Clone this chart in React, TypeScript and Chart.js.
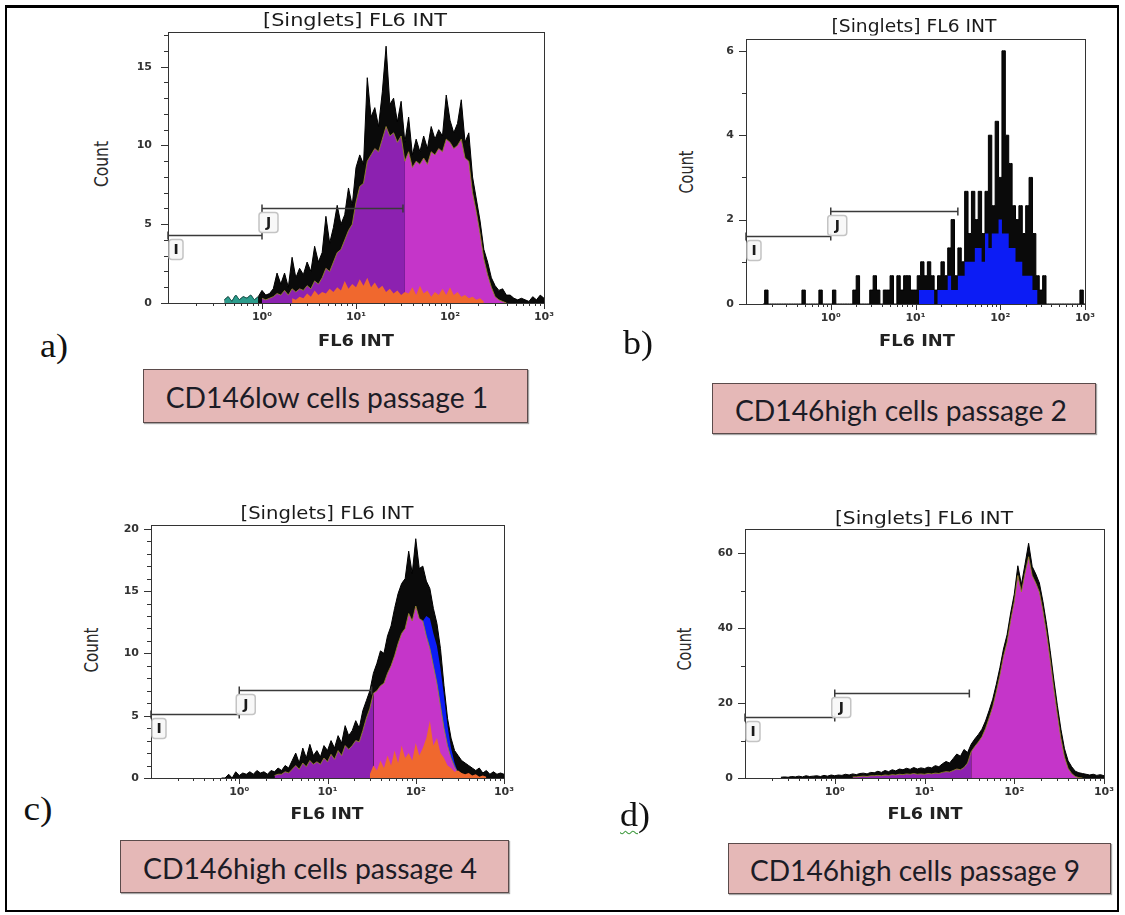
import React, { useEffect, useRef } from "react";
import { Chart, registerables } from "chart.js";

Chart.register(...registerables);

// ---------- shared axis definitions ----------
const BIN_STEP = 0.04; // channel width in log10 units
const X_MIN = 0.1;
const X_MAX = 1000;
const X_TICKS = [1, 10, 100, 1000];
const X_TICK_LABELS = ["10\u2070", "10\u00b9", "10\u00b2", "10\u00b3"];
const GATE_I = [0.1, 1];
const GATE_J = [1, 31.6];
const TITLE_TEXT = "[Singlets] FL6 INT";
const X_TITLE_TEXT = "FL6 INT";
const Y_TITLE_TEXT = "Count";

// ---------- panel a : CD146low passage 1 ----------
const aTealStart = -0.4;
const aTeal = [0.2, 0.4, 0.1, 0.5, 0.2, 0.4, 0.3, 0.5, 0.2, 0.4];
const aTotalStart = -0.4;
const aTotal = [
  0.2, 0.4, 0.1, 0.5, 0.2, 0.4, 0.3, 0.5, 0.2, 0.4,
  0.8, 0.5, 0.6, 0.9, 1.9, 1.2, 1.9, 1.0, 2.9, 1.6, 2.2, 1.8, 2.6, 2.0, 3.6, 2.6, 3.2, 5.5, 3.8, 4.8, 6.2, 5.0, 5.6, 7.3, 6.2,
  8.6, 9.4, 8.8, 14.3, 11.8, 12.4, 11.2, 13.4, 16.3, 12.6, 13.0, 11.5, 12.8, 10.2, 11.8, 9.4, 10.4, 9.6, 10.6, 9.8, 11.2, 10.4, 11.0, 10.6, 13.2,
  11.6, 10.8, 11.4, 12.9, 10.2, 10.8, 8.0, 6.6, 5.2, 3.4, 2.6, 1.6, 1.1, 0.8, 0.9, 0.5, 0.5, 0.3, 0.2, 0.3, 0.2, 0.1, 0.4, 0.2, 0.5,
  0.3,
];
const aGatedStart = 0.0;
const aGated = [
  0.3, 0.2, 0.3, 0.4, 0.6, 0.5, 0.8, 0.5, 0.9, 0.7, 0.9, 0.8, 1.1, 0.9, 1.4, 1.2, 1.6, 2.2, 2.0, 2.6, 3.2, 3.4, 4.0, 4.6, 5.0,
  6.4, 7.4, 7.6, 9.0, 9.4, 9.8, 9.6, 10.4, 11.2, 10.6, 10.8, 10.2, 10.6, 9.0, 9.6, 8.6, 9.0, 8.8, 9.2, 8.8, 9.6, 9.4, 9.8, 9.6, 10.4,
  10.2, 9.8, 10.0, 10.4, 9.2, 9.0, 7.0, 5.8, 4.4, 2.8, 1.8, 1.0, 0.4, 0.2, 0.1, 0,
];
const aOrangeStart = 0.32;
const aOrange = [
  0.3, 0.2, 0.4, 0.3, 0.6, 0.4, 0.8, 0.5, 0.7, 0.6, 0.9, 0.7, 1.0, 0.8, 1.4, 0.9, 1.2, 1.0, 1.5, 1.1,
  1.6, 1.0, 1.3, 0.9, 1.1, 0.7, 0.9, 0.6, 0.8, 0.5, 0.7, 0.6, 1.0, 0.5, 1.1, 0.6, 0.8, 0.4, 0.7, 0.5,
  0.9, 0.5, 1.0, 0.5, 0.7, 0.4, 0.5, 0.3, 0.4, 0.2, 0.3, 0.1,
];

// ---------- panel b : CD146high passage 2 ----------
const bTotalStart = -0.8;
const bTotal = [
  0, 0.33, 0, 0, 0, 0, 0, 0, 0, 0, 0, 0, 0.33, 0, 0, 0, 0, 0.33, 0, 0,
  0, 0.33, 0, 0, 0, 0, 0, 0.33, 0.67, 0, 0, 0, 0.33, 0.67, 0.33, 0, 0.33, 0.33, 0.67, 0, 0.67, 0.33, 0.67, 0.67, 0.33,
  0.33, 0.67, 1.0, 0.67, 1.0, 0.67, 0.33, 0.67, 1.0, 0.67, 1.33, 2.0, 0.67, 1.33, 1.0, 2.67, 1.67, 2.67, 2.0, 2.67, 1.67, 2.67, 4.0, 2.33, 4.33,
  3.0, 6.0, 4.0, 3.33, 2.33, 2.0, 2.33, 1.67, 2.33, 3.0, 1.67, 0.67, 0.33, 0.67, 0, 0, 0, 0, 0, 0, 0, 0, 0, 0, 0.33,
  0,
];
const bBlueStart = 1.04;
const bBlue = [
  0.33, 0.33, 0.33, 0.33, 0.33, 0, 0.33, 0.33, 0.33, 0.67, 0.33, 0.33, 0.67, 0.67, 1.0, 1.0, 1.0, 1.33,
  1.33, 1.0, 1.67, 1.33, 1.67, 1.67, 2.0, 1.67, 1.67, 1.33, 1.33, 1.0, 1.0, 0.67, 0.67, 0.67, 0.33, 0.33,
];

// ---------- panel c : CD146high passage 4 ----------
const cTotalStart = -0.2;
const cTotal = [
  0, 0, 0.3, 0, 0.5,
  0.2, 0.4, 0.3, 0.5, 0.3, 0.6, 0.4, 0.5, 0.3, 0.6, 0.5, 0.8, 0.6, 1.0, 0.8, 1.4, 2.0, 1.2, 2.4, 1.6, 2.7, 1.8, 2.2, 1.7, 2.6,
  2.2, 3.0, 2.4, 3.4, 2.8, 4.2, 3.4, 3.8, 4.6, 4.0, 5.4, 6.2, 7.0, 8.4, 9.2, 10.2, 10.0, 11.4, 12.2, 13.6, 14.8, 15.6, 16.0, 18.2, 16.4,
  19.2, 16.8, 17.0, 15.8, 15.2, 13.6, 12.4, 10.4, 7.4, 4.8, 3.2, 2.2, 1.8, 1.4, 1.2, 1.0, 0.8, 0.6, 0.8, 0.4, 0.6, 0.3, 0.5, 0.3, 0.4,
  0.3,
];
const cGatedStart = 0.4;
const cGated = [
  0.2, 0.3, 0.3, 0.5, 0.4, 0.7, 1.0, 0.7, 1.2, 0.9, 1.4, 1.1, 1.3, 1.1, 1.6,
  1.3, 1.9, 1.5, 2.2, 1.8, 2.6, 2.3, 2.6, 3.0, 2.9, 3.8, 4.8, 5.6, 6.8, 7.0, 7.4, 7.6, 8.4, 9.0, 9.8, 10.8, 11.6, 12.0, 13.2, 12.6,
  13.8, 12.8, 12.6, 11.4, 10.4, 9.0, 7.6, 5.8, 4.0, 2.6, 1.6, 0.9, 0.4, 0.2, 0,
];
const cBlueStart = 2.08;
const cBlue = [12.6, 13.0, 12.8, 11.6, 10.6, 8.8, 6.6, 4.2, 2.4, 1.2, 0.4, 0];
const cOrangeStart = 1.48;
const cOrange = [
  0.3, 1.0, 0.6, 1.4, 0.8, 1.8, 1.0, 2.2, 1.2, 2.6, 1.6, 2.0, 1.4, 2.8, 1.8, 2.4, 3.2,
  4.6, 2.6, 3.2, 2.0, 1.6, 1.0, 0.8, 0.5, 0.6, 0.4, 0.3, 0.4, 0.2, 0.3, 0.1, 0.2, 0.1,
];

// ---------- panel d : CD146high passage 9 ----------
const dTotalStart = -0.6;
const dTotal = [
  0.2, 0.3, 0.2, 0.4, 0.3, 0.5, 0.3, 0.6, 0.4, 0.5, 0.6, 0.4, 0.7, 0.5, 0.8,
  0.6, 0.8, 0.7, 1.0, 0.8, 1.1, 0.9, 1.2, 1.3, 1.1, 1.5, 1.4, 1.8, 1.5, 2.0, 1.7, 2.2, 1.9, 2.4, 2.2, 2.6, 2.3, 2.8, 2.4, 2.7,
  2.5, 2.9, 2.7, 3.3, 3.0, 3.8, 4.4, 4.0, 5.2, 6.4, 5.8, 7.6, 6.8, 9.0, 10.4, 11.6, 13.0, 15.2, 18.0, 21.0, 25.0, 29.4, 34.4, 38.2, 44.0,
  49.0, 56.6, 51.6, 57.0, 62.6, 56.4, 54.4, 52.0, 47.0, 41.0, 34.0, 26.4, 19.4, 13.0, 7.8, 4.6, 3.0, 1.8, 1.4, 1.2, 1.0, 0.8, 1.0, 0.7, 0.9,
  0.6,
];
const dGatedStart = 0.2;
const dGated = [
  0.3, 0.3, 0.4, 0.5, 0.4, 0.6, 0.6, 0.7, 0.6, 0.8, 0.7, 0.9, 0.8, 1.0, 0.9, 1.1, 1.0, 1.2, 1.0, 1.1,
  1.0, 1.2, 1.1, 1.3, 1.2, 1.5, 1.7, 1.6, 2.0, 2.4, 2.2, 2.8, 4.0, 7.0, 8.4, 9.6, 11.0, 13.2, 16.0, 19.0, 23.0, 27.4, 32.4, 36.2, 42.0,
  47.0, 54.0, 49.6, 54.6, 59.0, 54.0, 52.0, 49.6, 44.6, 38.6, 31.6, 24.0, 17.0, 10.6, 5.6, 2.6, 1.2, 0.4, 0.1, 0,
];

// ---------- styling ----------
const BLACK = "#0a0a0a";
const PURPLE = "#8c21b0";
const MAGENTA = "#c535c9";
const ORANGE = "#f0682e";
const BLUE = "#0c1cf5";
const TEAL = "#2c9c8c";
const OLIVE = "rgba(150,140,40,0.85)";
const AXIS_COLOR = "#333";
const TICK_FONT = { family: "DejaVu Sans", size: 11, weight: "bold" as const };

const AXIS_W = 44;
const AXIS_H = 30;
const PAD_T = 22;
const PAD_R = 16;

type Series = {
  start: number;
  values: number[];
  fill: string;
  border?: string;
  borderWidth?: number;
  gated?: boolean;
  order: number;
};

type Panel = {
  key: string;
  plot: { l: number; r: number; t: number; b: number };
  yMax: number;
  yMajor: number[];
  yMinorStep: number;
  yLabelPad: number;
  stepped: boolean;
  gateIY: number;
  gateJY: number;
  series: Series[];
  title: { cx: number; cy: number; w: number };
  xTitle: { cx: number; cy: number; w: number };
  yTitle: { cx: number; cy: number; w: number };
  letter: { text: string; cx: number; cy: number; w: number };
  box: { l: number; t: number; r: number; b: number; text: string; tcx: number; tw: number };
};

const PANELS: Panel[] = [
  {
    key: "a",
    plot: { l: 168, r: 544, t: 32, b: 303 },
    yMax: 17.2,
    yMajor: [0, 5, 10, 15],
    yMinorStep: 1,
    yLabelPad: 16,
    stepped: false,
    gateIY: 4.3,
    gateJY: 6.0,
    series: [
      { start: aTotalStart, values: aTotal, fill: BLACK, border: "#000", borderWidth: 1, order: 5 },
      { start: aGatedStart, values: aGated, fill: MAGENTA, border: OLIVE, borderWidth: 1, gated: true, order: 3 },
      { start: aOrangeStart, values: aOrange, fill: ORANGE, order: 2 },
      { start: aTealStart, values: aTeal, fill: TEAL, border: "#1d6b60", borderWidth: 1, order: 1 },
    ],
    title: { cx: 355, cy: 19.5, w: 184 },
    xTitle: { cx: 356, cy: 341, w: 76 },
    yTitle: { cx: 101, cy: 164, w: 46 },
    letter: { text: "a)", cx: 54, cy: 346, w: 28 },
    box: { l: 143, t: 369, r: 528, b: 423, text: "CD146low cells passage 1", tcx: 326.5, tw: 323 },
  },
  {
    key: "b",
    plot: { l: 746, r: 1085, t: 39, b: 304 },
    yMax: 6.28,
    yMajor: [0, 2, 4, 6],
    yMinorStep: 1,
    yLabelPad: 12,
    stepped: true,
    gateIY: 1.6,
    gateJY: 2.2,
    series: [
      { start: bTotalStart, values: bTotal, fill: BLACK, border: "#000", borderWidth: 1, order: 5 },
      { start: bBlueStart, values: bBlue, fill: BLUE, order: 4 },
    ],
    title: { cx: 914, cy: 26, w: 165 },
    xTitle: { cx: 917, cy: 341, w: 76 },
    yTitle: { cx: 686, cy: 172, w: 43 },
    letter: { text: "b)", cx: 638, cy: 343, w: 30 },
    box: { l: 712, t: 383, r: 1096, b: 434, text: "CD146high cells passage 2", tcx: 901, tw: 332 },
  },
  {
    key: "c",
    plot: { l: 151, r: 504, t: 525, b: 778 },
    yMax: 20.3,
    yMajor: [0, 5, 10, 15, 20],
    yMinorStep: 1,
    yLabelPad: 12,
    stepped: false,
    gateIY: 5.1,
    gateJY: 7.1,
    series: [
      { start: cTotalStart, values: cTotal, fill: BLACK, border: "#000", borderWidth: 1, order: 5 },
      { start: cBlueStart, values: cBlue, fill: BLUE, order: 4 },
      { start: cGatedStart, values: cGated, fill: MAGENTA, border: OLIVE, borderWidth: 1, gated: true, order: 3 },
      { start: cOrangeStart, values: cOrange, fill: ORANGE, order: 2 },
    ],
    title: { cx: 327, cy: 513, w: 173 },
    xTitle: { cx: 327, cy: 814, w: 73 },
    yTitle: { cx: 91, cy: 650, w: 45 },
    letter: { text: "c)", cx: 38, cy: 809, w: 29 },
    box: { l: 120, t: 840, r: 509, b: 893, text: "CD146high cells passage 4", tcx: 310, tw: 334 },
  },
  {
    key: "d",
    plot: { l: 745, r: 1104, t: 529, b: 778 },
    yMax: 66.4,
    yMajor: [0, 20, 40, 60],
    yMinorStep: 10,
    yLabelPad: 12,
    stepped: false,
    gateIY: 16.3,
    gateJY: 22.7,
    series: [
      { start: dTotalStart, values: dTotal, fill: BLACK, border: "#000", borderWidth: 1, order: 5 },
      { start: dGatedStart, values: dGated, fill: MAGENTA, border: OLIVE, borderWidth: 1, gated: true, order: 3 },
    ],
    title: { cx: 924, cy: 517.5, w: 178 },
    xTitle: { cx: 924.5, cy: 814, w: 75 },
    yTitle: { cx: 684, cy: 649, w: 43 },
    letter: { text: "d)", cx: 635, cy: 815, w: 30 },
    box: { l: 728, t: 843, r: 1111, b: 894, text: "CD146high cells passage 9", tcx: 915, tw: 330 },
  },
];

function toPoints(start: number, values: number[]) {
  return values.map((v, i) => ({ x: Math.pow(10, start + i * BIN_STEP), y: v }));
}

function roundRect(ctx: CanvasRenderingContext2D, x: number, y: number, w: number, h: number, r: number) {
  ctx.beginPath();
  ctx.moveTo(x + r, y);
  ctx.lineTo(x + w - r, y);
  ctx.quadraticCurveTo(x + w, y, x + w, y + r);
  ctx.lineTo(x + w, y + h - r);
  ctx.quadraticCurveTo(x + w, y + h, x + w - r, y + h);
  ctx.lineTo(x + r, y + h);
  ctx.quadraticCurveTo(x, y + h, x, y + h - r);
  ctx.lineTo(x, y + r);
  ctx.quadraticCurveTo(x, y, x + r, y);
  ctx.closePath();
}

const decoPlugin = {
  id: "deco",
  afterDatasetsDraw(chart: any, _args: any, opts: any) {
    const { ctx, chartArea: a } = chart;
    const xs = chart.scales.x;
    const ys = chart.scales.y;
    ctx.save();
    // frame
    ctx.strokeStyle = AXIS_COLOR;
    ctx.lineWidth = 1;
    ctx.strokeRect(Math.round(a.left) + 0.5, Math.round(a.top) + 0.5, Math.round(a.right - a.left), Math.round(a.bottom - a.top));
    // y ticks
    ctx.beginPath();
    for (const v of opts.yMajor) {
      const py = Math.round(ys.getPixelForValue(v)) + 0.5;
      ctx.moveTo(a.left - 7, py);
      ctx.lineTo(a.left, py);
    }
    for (let k = 1; k * opts.yMinorStep < opts.yMax; k++) {
      const v = k * opts.yMinorStep;
      if (opts.yMajor.some((m: number) => Math.abs(m - v) < 1e-9)) continue;
      const py = Math.round(ys.getPixelForValue(v)) + 0.5;
      ctx.moveTo(a.left - 4, py);
      ctx.lineTo(a.left, py);
    }
    // x ticks
    for (const v of X_TICKS) {
      const px = Math.round(xs.getPixelForValue(v)) + 0.5;
      ctx.moveTo(px, a.bottom);
      ctx.lineTo(px, a.bottom + 6);
    }
    for (let d = -1; d <= 2; d++) {
      for (let k = 2; k <= 9; k++) {
        const px = Math.round(xs.getPixelForValue(k * Math.pow(10, d))) + 0.5;
        ctx.moveTo(px, a.bottom);
        ctx.lineTo(px, a.bottom + 3);
      }
    }
    ctx.stroke();

    // gates
    const drawGate = (range: number[], yv: number) => {
      const x0 = xs.getPixelForValue(range[0]);
      const x1 = xs.getPixelForValue(range[1]);
      const py = Math.round(ys.getPixelForValue(yv)) + 0.5;
      ctx.strokeStyle = "#3a3a3a";
      ctx.lineWidth = 1.5;
      ctx.beginPath();
      ctx.moveTo(x0, py);
      ctx.lineTo(x1, py);
      ctx.moveTo(x0, py - 4);
      ctx.lineTo(x0, py + 4);
      ctx.moveTo(x1, py - 4);
      ctx.lineTo(x1, py + 4);
      ctx.stroke();
      return { x0, py };
    };
    const drawTag = (label: string, x: number, y: number, w: number, h: number) => {
      roundRect(ctx, x, y, w, h, 3);
      ctx.fillStyle = "rgba(248,248,248,0.95)";
      ctx.fill();
      ctx.strokeStyle = "#c4c4c4";
      ctx.lineWidth = 1.5;
      ctx.stroke();
      ctx.fillStyle = "#1a1a1a";
      ctx.font = "bold 14px 'DejaVu Sans'";
      ctx.textAlign = "center";
      ctx.textBaseline = "middle";
      ctx.fillText(label, x + w / 2, y + h / 2 + 1);
    };
    const gi = drawGate(GATE_I, opts.gateIY);
    const gj = drawGate(GATE_J, opts.gateJY);
    drawTag("I", gi.x0 + 1, gi.py + 4, 14, 20);
    drawTag("J", gj.x0 - 3, gj.py + 4, 19, 20);
    ctx.restore();
  },
};

function HistPanel({ p }: { p: Panel }) {
  const ref = useRef<HTMLCanvasElement>(null);
  const cw = p.plot.r - p.plot.l + AXIS_W + PAD_R;
  const ch = p.plot.b - p.plot.t + PAD_T + AXIS_H;
  useEffect(() => {
    if (!ref.current) return;
    const zeroPad = (s: any) => {
      s.paddingLeft = 0;
      s.paddingRight = 0;
      s.paddingTop = 0;
      s.paddingBottom = 0;
    };
    const chart = new Chart(ref.current, {
      type: "line",
      data: {
        datasets: p.series.map((s) => ({
          data: toPoints(s.start, s.values),
          backgroundColor: s.fill,
          borderColor: s.border ?? "rgba(0,0,0,0)",
          borderWidth: s.borderWidth ?? 0,
          fill: "origin",
          pointRadius: 0,
          pointHoverRadius: 0,
          tension: 0,
          stepped: p.stepped ? "middle" : false,
          order: s.order,
          segment: s.gated
            ? { backgroundColor: (c: any) => (c.p0.parsed.x < GATE_J[1] ? PURPLE : MAGENTA) }
            : undefined,
        })) as any,
      },
      options: {
        animation: false,
        responsive: false,
        devicePixelRatio: 1,
        events: [],
        parsing: false as any,
        layout: { padding: { top: PAD_T, right: PAD_R, left: 0, bottom: 0 } },
        plugins: {
          legend: { display: false },
          tooltip: { enabled: false },
          title: { display: false },
          deco: {
            yMajor: p.yMajor,
            yMinorStep: p.yMinorStep,
            yMax: p.yMax,
            gateIY: p.gateIY,
            gateJY: p.gateJY,
          },
        } as any,
        scales: {
          x: {
            type: "logarithmic",
            min: X_MIN,
            max: X_MAX,
            afterBuildTicks: (s: any) => {
              s.ticks = X_TICKS.map((v) => ({ value: v }));
            },
            afterFit: (s: any) => {
              s.height = AXIS_H;
              zeroPad(s);
            },
            ticks: {
              callback: (v: any) => {
                const i = X_TICKS.indexOf(Number(v));
                return i >= 0 ? X_TICK_LABELS[i] : "";
              },
              padding: 8,
              autoSkip: false,
              maxRotation: 0,
              minRotation: 0,
              font: TICK_FONT,
              color: AXIS_COLOR,
            },
            grid: { display: false, drawTicks: false },
            border: { display: false },
          },
          y: {
            type: "linear",
            min: 0,
            max: p.yMax,
            afterBuildTicks: (s: any) => {
              s.ticks = p.yMajor.map((v) => ({ value: v }));
            },
            afterFit: (s: any) => {
              s.width = AXIS_W;
              zeroPad(s);
            },
            ticks: {
              callback: (v: any) => String(v),
              padding: p.yLabelPad,
              font: TICK_FONT,
              color: AXIS_COLOR,
            },
            grid: { display: false, drawTicks: false },
            border: { display: false },
          },
        },
      } as any,
      plugins: [decoPlugin as any],
    });
    return () => chart.destroy();
  }, [p]);
  return (
    <canvas
      ref={ref}
      width={cw}
      height={ch}
      style={{ position: "absolute", left: p.plot.l - AXIS_W, top: p.plot.t - PAD_T, width: cw, height: ch }}
    />
  );
}

let measureCtx: CanvasRenderingContext2D | null = null;
function textWidth(text: string, font: string) {
  if (!measureCtx) measureCtx = document.createElement("canvas").getContext("2d");
  measureCtx!.font = font;
  return measureCtx!.measureText(text).width;
}

function FitLabel(props: {
  text: string;
  font: string;
  cx: number;
  cy: number;
  w: number;
  rotate?: number;
  color?: string;
  children?: React.ReactNode;
}) {
  const { text, font, cx, cy, w, rotate = 0, color = "#1a1a1a", children } = props;
  const k = w / Math.max(1, textWidth(text, font));
  return (
    <div
      style={{
        position: "absolute",
        left: cx,
        top: cy,
        font,
        lineHeight: 1,
        color,
        whiteSpace: "nowrap",
        transform: `translate(-50%, -50%) rotate(${rotate}deg) scaleX(${k})`,
      }}
    >
      {children ?? text}
    </div>
  );
}

const TITLE_FONT = "17px 'DejaVu Sans'";
const XT_FONT = "bold 16px 'DejaVu Sans'";
const YT_FONT = "19px 'DejaVu Sans'";
const LETTER_FONT = "34px 'Liberation Serif'";
const BOX_FONT = "28px Lato";

export default function App() {
  return (
    <div
      style={{
        position: "absolute",
        left: 0,
        top: 0,
        width: 1125,
        height: 915,
        background: "#fff",
        overflow: "hidden",
      }}
    >
      <div
        style={{
          position: "absolute",
          left: 5,
          top: 5,
          width: 1114,
          height: 907,
          boxSizing: "border-box",
          border: "2px solid #000",
          borderTop: "3px solid #000",
        }}
      />
      {PANELS.map((p) => (
        <HistPanel key={p.key} p={p} />
      ))}
      {PANELS.map((p) => (
        <React.Fragment key={"t" + p.key}>
          <FitLabel text={TITLE_TEXT} font={TITLE_FONT} cx={p.title.cx} cy={p.title.cy} w={p.title.w} />
          <FitLabel text={X_TITLE_TEXT} font={XT_FONT} cx={p.xTitle.cx} cy={p.xTitle.cy} w={p.xTitle.w} color="#222" />
          <FitLabel
            text={Y_TITLE_TEXT}
            font={YT_FONT}
            cx={p.yTitle.cx}
            cy={p.yTitle.cy}
            w={p.yTitle.w}
            rotate={-90}
            color="#2a2a2a"
          />
          <FitLabel text={p.letter.text} font={LETTER_FONT} cx={p.letter.cx} cy={p.letter.cy} w={p.letter.w} color="#111">
            {p.key === "d" ? (
              <>
                <span
                  style={{
                    textDecoration: "underline wavy #3f9a3f",
                    textDecorationThickness: "1px",
                    textUnderlineOffset: "4px",
                  }}
                >
                  d
                </span>
                )
              </>
            ) : undefined}
          </FitLabel>
          <div
            style={{
              position: "absolute",
              left: p.box.l,
              top: p.box.t,
              width: p.box.r - p.box.l,
              height: p.box.b - p.box.t,
              boxSizing: "border-box",
              background: "#e5b8b7",
              border: "1.5px solid #5b4b4b",
              boxShadow: "1px 1px 1px rgba(0,0,0,0.35)",
            }}
          />
          <FitLabel
            text={p.box.text}
            font={BOX_FONT}
            cx={p.box.tcx}
            cy={(p.box.t + p.box.b) / 2 + 1}
            w={p.box.tw}
            color="#1c1c26"
          />
        </React.Fragment>
      ))}
    </div>
  );
}
